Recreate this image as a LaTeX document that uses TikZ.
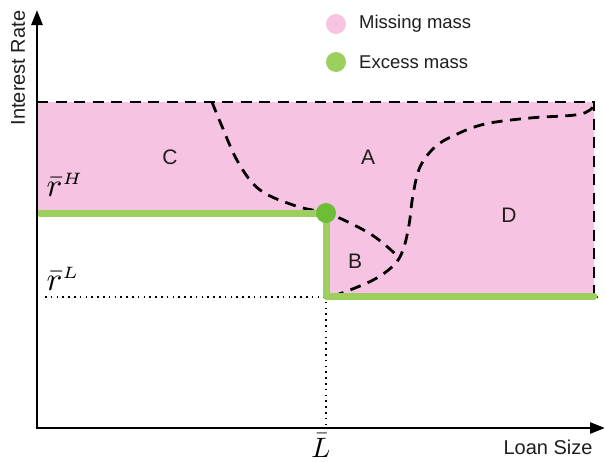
\documentclass[tikz,border=0pt]{standalone}
\usepackage{fontspec}
\setmainfont{Liberation Sans}
\usetikzlibrary{arrows.meta}
\definecolor{pinkmass}{RGB}{246,196,226}
\definecolor{greenmass}{RGB}{157,207,95}
\definecolor{greendot}{RGB}{108,190,54}
\definecolor{txt}{RGB}{30,30,30}
\begin{document}
\begin{tikzpicture}[x=1pt,y=-1pt,
  axis/.style={line width=2.6pt,-{Triangle[length=15pt,width=11pt]}},
  dashline/.style={line width=2.8pt,dash pattern=on 11pt off 7.5pt},
  dotline/.style={line width=1.4pt,dash pattern=on 1.6pt off 4.2pt},
  excessline/.style={line width=7pt,greenmass,line cap=round,line join=round},
  lbl/.style={font=\fontsize{20}{22}\selectfont,text=txt,inner sep=0pt},
  leg/.style={font=\fontsize{18.5}{20}\selectfont,text=txt,inner sep=0pt,anchor=west},
  region/.style={font=\fontsize{21}{24}\selectfont,text=txt,inner sep=0pt},
  mathlbl/.style={font=\normalsize,inner sep=0pt}]
\useasboundingbox (0,0) rectangle (605,461);
% coordinates
\coordinate (O) at (37,428);
\coordinate (Ytop) at (37,10);
\coordinate (Xend) at (605,428);
\coordinate (TL) at (37,102);
\coordinate (TR) at (594,102);
\coordinate (BR) at (594,296);
\coordinate (K) at (326,213);
\coordinate (KL) at (326,296);
\coordinate (HL) at (40,213);
% pink region
\fill[pinkmass] (TL) -- (TR) -- (BR) -- (KL) -- (K) -- (37,213) -- cycle;
% dotted guides
\coordinate (DL) at (45,297);
\coordinate (DR) at (600,297);
\coordinate (DB) at (326,426);
\draw[dotline] (DL) -- (DR);
\draw[dotline] (KL) -- (DB);
% dashed boundary
\draw[dashline] (TL) -- (TR) -- (BR);
% dashed curves
\draw[dashline] plot[smooth,tension=0.6] coordinates {(212,102) (221,124) (238,162) (260,190) (296,206) (326,213) (348,222) (372,235) (391,250) (399,259)};
\draw[dashline] plot[smooth,tension=0.6] coordinates {(333,296) (350,290) (375,279) (394,265) (403,250) (409,225) (413,195) (420,167) (435,147) (455,135) (485,124) (530,118) (575,115) (590,110) (594,103)};
% excess line
\draw[excessline] (HL) -- (K) -- (KL) -- (BR);
\fill[greendot] (K) circle (10pt);
% axes
\draw[axis] (O) -- (Ytop);
\draw[axis] ([xshift=-1.3pt]O) -- (Xend);
% labels
\node[lbl,rotate=90] (ylab) at (18,68) {Interest Rate};
\node[lbl] (xlab) at (548,447) {Loan Size};
\node[mathlbl,scale=2.8,anchor=base] (Lbar) at (321,457) {$\bar{L}$};
\node[mathlbl,scale=3.3,anchor=base west] (rH) at (46,196) {$\bar{r}^{\scriptscriptstyle H}$};
\node[mathlbl,scale=3.3,anchor=base west] (rL) at (46,290) {$\bar{r}^{\scriptscriptstyle L}$};
\node[region] (C) at (170,157) {C};
\node[region] (A) at (368,157) {A};
\node[region] (B) at (355,261) {B};
\node[region] (D) at (509,215) {D};
% legend
\fill[pinkmass] (336,24) circle (10pt);
\fill[greenmass] (336,62) circle (10pt);
\node[leg] (l1) at (359,24) {Missing mass};
\node[leg] (l2) at (359,62) {Excess mass};
\end{tikzpicture}
\end{document}
